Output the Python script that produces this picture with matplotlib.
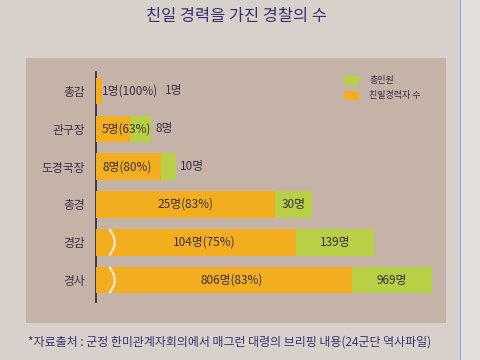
import matplotlib
matplotlib.use('Agg')
import matplotlib.pyplot as plt
from matplotlib.patches import Rectangle
import numpy as np

plt.rcParams['font.family'] = ['Noto Sans CJK KR', 'DejaVu Sans']

# 계급별 데이터
ranks = ['총감', '관구장', '도경국장', '총경', '경감', '경사']
pro_count = [1, 5, 8, 25, 104, 806]          # 친일경력자 수
total_count = [1, 8, 10, 30, 139, 969]       # 총인원
pro_pct = [100, 63, 80, 83, 75, 83]
# 그림에 그려진 막대 길이 (축척이 맞지 않음, 아래 두 줄은 생략선 있음)
pro_len = [0.8, 4.7, 9.0, 24.9, 27.8, 35.5]
total_len = [0.8, 7.7, 11.1, 30.0, 38.6, 46.7]
broken = [False, False, False, False, True, True]

orange = '#f2ae1e'
green = '#b9cf45'
text_c = '#3b2f45'

fig = plt.figure(figsize=(4.8, 3.6), dpi=100)
fig.patch.set_facecolor('#d8d1cb')

# 배경 판넬
fig.patches.append(Rectangle((0.054, 0.103), 0.875, 0.736, transform=fig.transFigure,
                             facecolor='#c6b3a8', edgecolor='none', zorder=-5))
fig.patches.append(Rectangle((0.958, 0), 0.042, 1, transform=fig.transFigure,
                             facecolor='#e2dfdd', edgecolor='none', zorder=-5))
fig.add_artist(plt.Line2D([0.958, 0.958], [0, 1], color='#8fa2d6', lw=0.8))

fig.text(0.492, 0.955, '친일 경력을 가진 경찰의 수', ha='center', va='center',
         fontsize=11.8, color='#3a3070')

ax = fig.add_axes([0.2, 0.161, 0.729, 0.639])
ax.set_facecolor('none')
y = np.arange(len(ranks))
h = 0.7

ax.barh(y, total_len, height=h, color=green, zorder=2)
ax.barh(y, pro_len, height=h, color=orange, zorder=3)

brk_x = 2.2
for i in range(len(ranks)):
    pl, tl = pro_len[i], total_len[i]
    lab = f'{pro_count[i]}명({pro_pct[i]}%)'
    if tl < 15:
        t = ax.text(0.85, i, lab, ha='left', va='center', fontsize=8.5, color=text_c, zorder=5)
        if tl < 3:
            ax.annotate(f'{total_count[i]}명', xy=(1, 0.5), xycoords=t,
                        xytext=(5, 0), textcoords='offset points',
                        ha='left', va='center', fontsize=8.5, color=text_c)
        else:
            ax.text(tl + 0.55, i, f'{total_count[i]}명', ha='left', va='center',
                    fontsize=8.5, color=text_c, zorder=5)
    else:
        start = brk_x if broken[i] else 0
        ax.text((start + pl) / 2, i, lab, ha='center', va='center',
                fontsize=8.5, color=text_c, zorder=5)
        ax.text((pl + tl) / 2, i, f'{total_count[i]}명', ha='center', va='center',
                fontsize=8.5, color=text_c, zorder=5)
    if broken[i]:
        tt = np.linspace(0, 1, 30)
        ax.plot(brk_x - 0.35 + 0.75 * np.sin(np.pi * tt), i - h / 2 + h * tt,
                color='#f1e6d6', lw=1.6, zorder=4, solid_capstyle='butt')

ax.set_xlim(0, 48.6)
ax.set_ylim(5.58, -0.5)
ax.set_yticks(y)
ax.set_yticklabels(ranks, fontsize=8.5, color=text_c)
ax.tick_params(axis='y', length=0, pad=8)
ax.set_xticks([])
for s in ['top', 'right', 'bottom']:
    ax.spines[s].set_visible(False)
ax.spines['left'].set_color('#2a2430')
ax.spines['left'].set_linewidth(1.2)

# 범례
lax = fig.add_axes([0, 0, 1, 1])
lax.set_axis_off()
lax.set_xlim(0, 480)
lax.set_ylim(360, 0)
lax.add_patch(Rectangle((344, 76), 15, 9, facecolor=green, edgecolor='none'))
lax.add_patch(Rectangle((344, 91), 15, 9, facecolor=orange, edgecolor='none'))
lax.text(369, 80.5, '총인원', ha='left', va='center', fontsize=6.5, color=text_c)
lax.text(369, 95.5, '친일경력자 수', ha='left', va='center', fontsize=6.5, color=text_c)

fig.text(0.058, 0.05, '*자료출처 : 군정 한미관계자회의에서 매그런 대령의 브리핑 내용(24군단 역사파일)',
         ha='left', va='center', fontsize=8.6, color='#3a3070')

fig.savefig('out.png', dpi=100, facecolor=fig.get_facecolor())
